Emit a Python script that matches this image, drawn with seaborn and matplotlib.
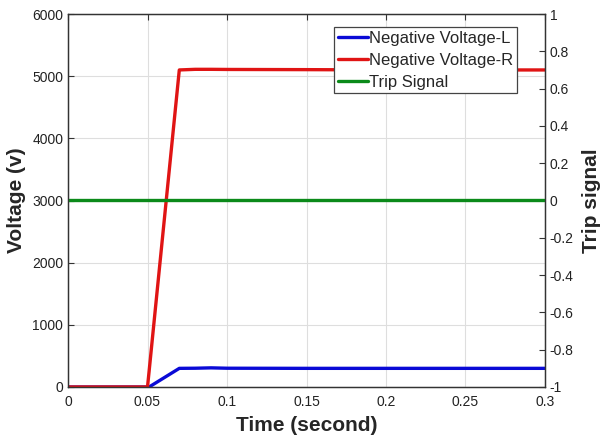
import matplotlib
matplotlib.use("Agg")
import matplotlib.pyplot as plt
import numpy as np
import seaborn as sns
from matplotlib.ticker import FuncFormatter

# data
time_s = [0, 0.05, 0.051, 0.07, 0.08, 0.09, 0.1, 0.15, 0.2, 0.25, 0.3]
volt_l = [0, 0, 0, 300, 302, 308, 302, 300, 300, 300, 300]
volt_r = [0, 0, 250, 5100, 5110, 5110, 5108, 5105, 5100, 5100, 5100]
trip_t = [0, 0.3]
trip_sig = [0, 0]

sns.set_style("white")
plt.rcParams["font.family"] = ["Liberation Sans", "DejaVu Sans"]

fig, ax = plt.subplots(figsize=(6.03, 4.36), dpi=100)
fig.subplots_adjust(left=68 / 603, right=545 / 603, bottom=1 - 387 / 436, top=1 - 14 / 436)
ax2 = ax.twinx()

sns.lineplot(x=time_s, y=volt_l, ax=ax, color="#0a0ad6", linewidth=2.4, label="Negative Voltage-L", legend=False)
sns.lineplot(x=time_s, y=volt_r, ax=ax, color="#e01414", linewidth=2.4, label="Negative Voltage-R", legend=False)
sns.lineplot(x=trip_t, y=trip_sig, ax=ax2, color="#0b8a1a", linewidth=2.4, label="Trip Signal", legend=False)

ax.set_xlim(0, 0.3)
ax.set_ylim(0, 6000)
ax2.set_ylim(-1, 1)
ax.set_xticks(np.arange(0, 0.301, 0.05))
ax.set_yticks(range(0, 6001, 1000))
ax2.set_yticks(np.round(np.arange(-1, 1.01, 0.2), 1))
ax.xaxis.set_major_formatter(FuncFormatter(lambda v, p: "%g" % (round(v, 3) + 0)))
ax2.yaxis.set_major_formatter(FuncFormatter(lambda v, p: "%g" % (round(v, 1) + 0)))

ax.grid(True, color="#dedede", linewidth=0.8)
ax.set_axisbelow(True)

edge = "#333333"
for a in (ax, ax2):
    for s in a.spines.values():
        s.set_color(edge)
        s.set_linewidth(0.9)
ax.tick_params(axis="both", direction="in", length=4, width=0.8, color=edge,
               labelsize=10, labelcolor="#222222", top=True)
ax.tick_params(axis="x", pad=6)
ax2.tick_params(axis="y", direction="in", length=4, width=0.8, color=edge,
                labelsize=10, labelcolor="#222222")

ax.set_xlabel("Time (second)", fontsize=15, fontweight="bold", labelpad=5)
ax.set_ylabel("Voltage (v)", fontsize=15, fontweight="bold", labelpad=4)
ax2.set_ylabel("Trip signal", fontsize=15, fontweight="bold", labelpad=6)

h1, l1 = ax.get_legend_handles_labels()
h2, l2 = ax2.get_legend_handles_labels()
leg = ax2.legend(h1 + h2, l1 + l2, loc="upper left", bbox_to_anchor=(266 / 477, 0.965),
                 fontsize=12, frameon=True, fancybox=False, framealpha=1,
                 edgecolor="#444444", handlelength=1.8, handletextpad=0.1,
                 labelspacing=0.42, borderpad=0.22, borderaxespad=0)
leg.get_frame().set_linewidth(0.9)

fig.savefig("out.png", dpi=100)
